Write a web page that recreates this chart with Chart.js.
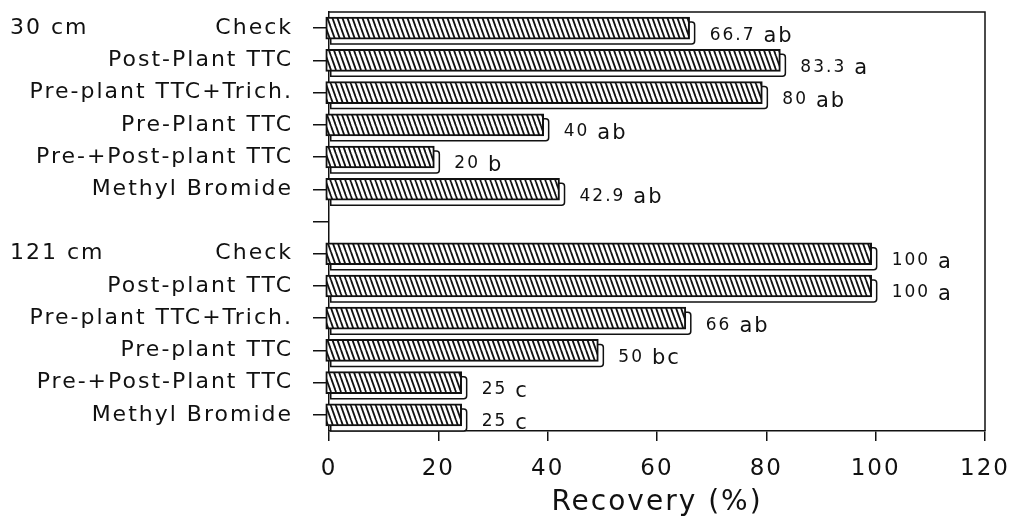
<!DOCTYPE html>
<html>
<head>
<meta charset="utf-8">
<script src="https://cdn.jsdelivr.net/npm/chart.js@4"></script>
<style>
  html, body { margin: 0; padding: 0; background: #fff; }
</style>
</head>
<body>
<canvas id="recoveryChart" width="1011" height="521"></canvas>
<script>
// values
const categories = [
  "Check", "Post-Plant TTC", "Pre-plant TTC+Trich.", "Pre-Plant TTC",
  "Pre-+Post-plant TTC", "Methyl Bromide", "",
  "Check", "Post-plant TTC", "Pre-plant TTC+Trich.", "Pre-plant TTC",
  "Pre-+Post-Plant TTC", "Methyl Bromide"
];
const recovery = [66.7, 83.3, 80, 40, 20, 42.9, null, 100, 100, 66, 50, 25, 25];
const valueLabels = ["66.7", "83.3", "80", "40", "20", "42.9", "", "100", "100", "66", "50", "25", "25"];
const letters = ["ab", "a", "ab", "ab", "b", "ab", "", "a", "a", "ab", "bc", "c", "c"];
const groupLabels = ["30 cm", "121 cm"];
const groupRows = [0, 7];
const xTicks = [0, 20, 40, 60, 80, 100, 120];
const xTitle = "Recovery (%)";

const ink = "#111";
const family = "'DejaVu Sans', sans-serif";
const spacing = "2px";

const canvas = document.getElementById("recoveryChart");
const ctx = canvas.getContext("2d");

function makeHatch() {
  const tile = document.createElement("canvas");
  tile.width = 5;
  tile.height = 14;
  const g = tile.getContext("2d");
  g.fillStyle = "#fff";
  g.fillRect(0, 0, 5, 14);
  g.strokeStyle = ink;
  g.lineWidth = 1.8;
  for (let k = -1; k <= 1; k++) {
    g.beginPath();
    g.moveTo(k * 5, 0);
    g.lineTo(k * 5 + 5, 14);
    g.stroke();
  }
  return ctx.createPattern(tile, "repeat");
}

// back face of each bar, front face shifted left, labels and frame
const bar3d = {
  id: "bar3d",
  beforeUpdate(chart) {
    chart.ctx.letterSpacing = spacing;
  },
  beforeDraw(chart) {
    chart.ctx.letterSpacing = spacing;
  },
  beforeDatasetsDraw(chart) {
    const c = chart.ctx;
    const meta = chart.getDatasetMeta(0);
    c.save();
    c.fillStyle = "#fff";
    c.strokeStyle = ink;
    c.lineWidth = 1.5;
    meta.data.forEach((bar, i) => {
      if (recovery[i] == null) return;
      const h = bar.height;
      const x0 = bar.base + 1;
      const x1 = bar.x + 1;
      const y0 = bar.y - h / 2 + 5;
      c.beginPath();
      c.roundRect(x0, y0, x1 - x0, h, [0, 3, 3, 0]);
      c.fill();
      c.stroke();
    });
    c.restore();
    c.save();
    c.translate(-4, 0);
  },
  afterDatasetsDraw(chart) {
    const c = chart.ctx;
    c.restore();
    const meta = chart.getDatasetMeta(0);
    c.save();
    c.fillStyle = ink;
    c.textAlign = "left";
    meta.data.forEach((bar, i) => {
      if (recovery[i] == null) return;
      const x = bar.x + 16;
      c.font = "17px " + family;
      c.textBaseline = "middle";
      c.fillText(valueLabels[i], x, bar.y + 7);
      const w = c.measureText(valueLabels[i]).width;
      c.font = "21px " + family;
      c.textBaseline = "alphabetic";
      c.fillText(letters[i], x + w + 8, bar.y + 14);
    });
    c.restore();
  },
  afterDraw(chart) {
    const c = chart.ctx;
    const a = chart.chartArea;
    const yScale = chart.scales.y;
    c.save();
    c.strokeStyle = ink;
    c.lineWidth = 1.5;
    c.beginPath();
    c.moveTo(a.left, a.top);
    c.lineTo(a.right, a.top);
    c.lineTo(a.right, a.bottom);
    c.stroke();
    c.fillStyle = ink;
    c.font = "22px " + family;
    c.textAlign = "left";
    c.textBaseline = "middle";
    groupLabels.forEach((g, i) => {
      c.fillText(g, 10, yScale.getPixelForValue(groupRows[i]));
    });
    c.restore();
  }
};

new Chart(ctx, {
  type: "bar",
  data: {
    labels: categories,
    datasets: [
      {
        data: recovery,
        backgroundColor: makeHatch(),
        borderColor: ink,
        borderWidth: 2,
        borderSkipped: false,
        barThickness: 22,
        clip: false,
      },
    ],
  },
  options: {
    indexAxis: "y",
    responsive: false,
    animation: false,
    devicePixelRatio: 1,
    layout: { padding: { top: 12, right: 26, left: 0, bottom: 0 } },
    plugins: {
      legend: { display: false },
      tooltip: { enabled: false },
    },
    scales: {
      x: {
        type: "linear",
        min: xTicks[0],
        max: xTicks[xTicks.length - 1],
        afterBuildTicks(scale) {
          scale.ticks = xTicks.map((v) => ({ value: v }));
        },
        ticks: {
          color: ink,
          font: { family: family, size: 23 },
          padding: 14,
          maxRotation: 0,
        },
        grid: {
          drawOnChartArea: false,
          tickLength: 10,
          color: ink,
          lineWidth: 1.5,
        },
        border: { color: ink, width: 1.5 },
        title: {
          display: true,
          text: xTitle,
          color: ink,
          font: { family: family, size: 28 },
          padding: { top: 0, bottom: 1 },
        },
        afterFit(scale) {
          scale.height = 90;
          scale.paddingLeft = 0;
          scale.paddingRight = 0;
        },
      },
      y: {
        type: "category",
        ticks: {
          color: ink,
          font: { family: family, size: 22 },
          padding: 20,
          autoSkip: false,
        },
        grid: {
          drawOnChartArea: false,
          offset: false,
          tickLength: 16,
          color: ink,
          lineWidth: 1.5,
        },
        border: { color: ink, width: 1.5 },
        afterFit(scale) {
          scale.width = 329;
          scale.paddingTop = 0;
          scale.paddingBottom = 0;
        },
      },
    },
  },
  plugins: [bar3d],
});
</script>
</body>
</html>
